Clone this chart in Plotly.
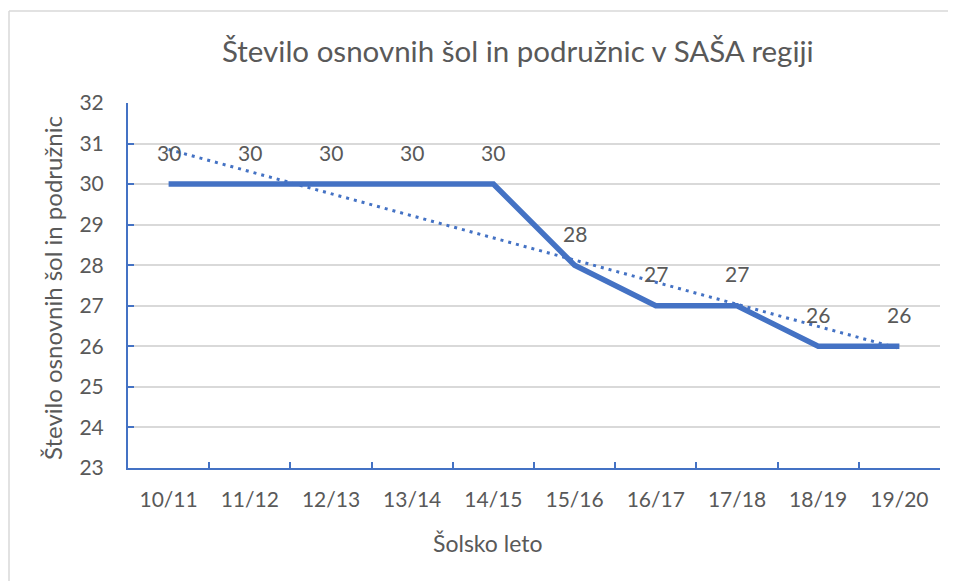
import numpy as np
import plotly.graph_objects as go

categories = ["10/11", "11/12", "12/13", "13/14", "14/15", "15/16", "16/17", "17/18", "18/19", "19/20"]
values = [30, 30, 30, 30, 30, 28, 27, 27, 26, 26]
y_ticks = [23, 24, 25, 26, 27, 28, 29, 30, 31, 32]

title_text = "Število osnovnih šol in podružnic v SAŠA regiji"
x_title = "Šolsko leto"
y_title = "Število osnovnih šol in podružnic"

BLUE = "#4472C4"
GRAY = "#595959"
FONT = "Lato"

OFF = 8  # page body margin
W, H = 956 - OFF, 581 - OFF
PL, PR, PT, PB = 128, 940, 103, 468  # target plot area in screenshot pixels
L, R, T, B = PL - OFF, W - (PR - OFF), PT - OFF, H - (PB - OFF)
pw, ph = W - L - R, H - T - B

def px_x(px):
    return (px - OFF - L) / pw

def px_y(py):
    return (H - B - (py - OFF)) / ph

# linear trend line (least squares through the data)
idx = np.arange(len(values))
slope, intercept = np.polyfit(idx, values, 1)
trend = slope * idx + intercept

fig = go.Figure()
fig.add_trace(go.Scatter(x=categories, y=trend, mode="lines",
                         line=dict(color=BLUE, width=3, dash="3px,5px"),
                         hoverinfo="skip", showlegend=False))
fig.add_trace(go.Scatter(x=categories, y=values, mode="lines",
                         line=dict(color=BLUE, width=5.5),
                         showlegend=False))

annotations = []
for c, v in zip(categories, values):
    annotations.append(dict(x=c, y=v, xref="x", yref="y", text=str(v),
                            showarrow=False, yshift=32,
                            font=dict(family=FONT, size=21, color=GRAY)))
annotations.append(dict(x=px_x(518), y=px_y(50), xref="paper", yref="paper",
                        text=title_text, showarrow=False,
                        xanchor="center", yanchor="middle",
                        font=dict(family=FONT, size=29.5, color=GRAY)))
annotations.append(dict(x=px_x(488), y=px_y(543), xref="paper", yref="paper",
                        text=x_title, showarrow=False,
                        xanchor="center", yanchor="middle",
                        font=dict(family=FONT, size=23, color=GRAY)))
annotations.append(dict(x=px_x(52), y=px_y(288), xref="paper", yref="paper",
                        text=y_title, showarrow=False, textangle=-90,
                        xanchor="center", yanchor="middle",
                        font=dict(family=FONT, size=24, color=GRAY)))

shapes = [
    dict(type="line", xref="paper", yref="paper",
         x0=px_x(9), x1=px_x(9), y0=px_y(11), y1=px_y(600),
         line=dict(color="#d9d9d9", width=1.5)),
    dict(type="line", xref="paper", yref="paper",
         x0=px_x(9), x1=px_x(970), y0=px_y(11), y1=px_y(11),
         line=dict(color="#d9d9d9", width=1.5)),
]

fig.update_layout(
    width=W, height=H,
    margin=dict(l=L, r=R, t=T, b=B),
    plot_bgcolor="white", paper_bgcolor="white",
    font=dict(family=FONT, color=GRAY),
    annotations=annotations,
    shapes=shapes,
    showlegend=False,
)
fig.update_xaxes(
    type="category", categoryorder="array", categoryarray=categories,
    range=[-0.5, len(categories) - 0.5],
    showline=True, linecolor=BLUE, linewidth=2,
    ticks="inside", tickson="boundaries", ticklen=6, tickcolor=BLUE, tickwidth=2,
    showgrid=False, tickfont=dict(family=FONT, size=21, color=GRAY),
    ticklabelstandoff=12,
)
fig.update_yaxes(
    range=[23, 32], tickvals=y_ticks,
    showline=True, linecolor=BLUE, linewidth=2,
    ticks="inside", ticklen=6, tickcolor=BLUE, tickwidth=2,
    showgrid=True, gridcolor="#d9d9d9", gridwidth=1.5,
    zeroline=False,
    tickfont=dict(family=FONT, size=21, color=GRAY),
    ticklabelstandoff=18,
)

fig.write_html("out.html")
